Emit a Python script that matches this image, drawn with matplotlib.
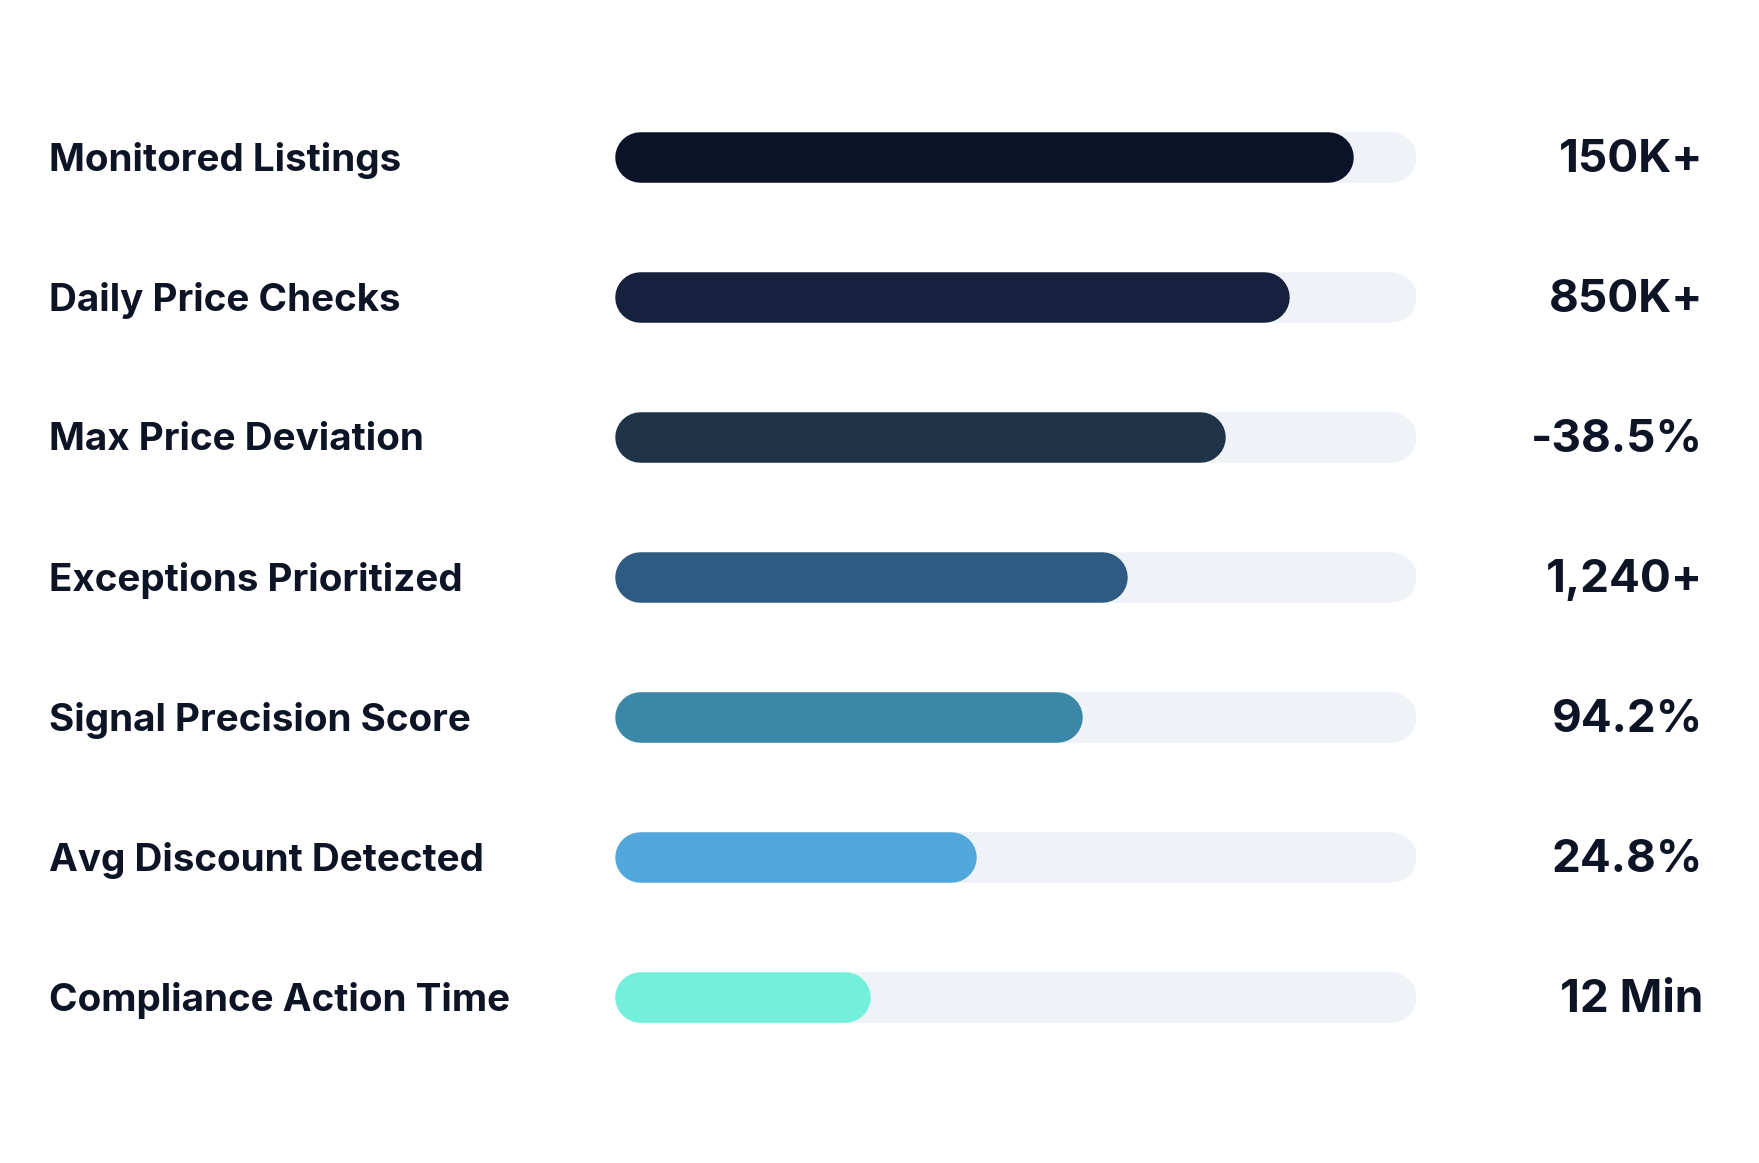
import matplotlib.pyplot as plt
from matplotlib.transforms import blended_transform_factory, offset_copy

# data
LABELS = ['Monitored Listings', 'Daily Price Checks', 'Max Price Deviation',
          'Exceptions Prioritized', 'Signal Precision Score',
          'Avg Discount Detected', 'Compliance Action Time']
SCORES = [92.2, 84.2, 76.2, 63.9, 58.3, 45.1, 31.9]
VALUE_TEXT = ['150K+', '850K+', '-38.5%', '1,240+', '94.2%', '24.8%', '12 Min']
COLORS = ['#0b1329', '#16213d', '#1f3349', '#2d5b84', '#3a87a8', '#52a8dc', '#74efdc']

TRACK = '#eff3f7'
TEXT = '#0d1426'
W, H, DPI = 1759, 1163, 100
BAR_PX = 50.5
ROW_PX = 140
FIRST_ROW_PX = 157

plt.rcParams['font.family'] = ['Inter', 'DejaVu Sans']

fig = plt.figure(figsize=(W / DPI, H / DPI), dpi=DPI)
fig.patch.set_facecolor('white')

left_px, right_px = 615, 1416
ax = fig.add_axes([left_px / W, 0, (right_px - left_px) / W, 1])
ax.set_xlim(0, 100)
top = -FIRST_ROW_PX / ROW_PX
bottom = (H - FIRST_ROW_PX) / ROW_PX
ax.set_ylim(bottom, top)
ax.axis('off')

lw = BAR_PX * 72 / DPI
r = (BAR_PX / 2) / ((right_px - left_px) / 100)  # cap radius in data units

for i, (s, c) in enumerate(zip(SCORES, COLORS)):
    ax.plot([r, 100 - r], [i, i], color=TRACK, lw=lw, solid_capstyle='round', zorder=1)
    ax.plot([r, s - r], [i, i], color=c, lw=lw, solid_capstyle='round', zorder=2)

trans = blended_transform_factory(fig.transFigure, ax.transData)
trans = offset_copy(trans, fig=fig, y=-2.5, units='points')
for i, (lab, vt) in enumerate(zip(LABELS, VALUE_TEXT)):
    fig.text(49 / W, i, lab, transform=trans, ha='left', va='center',
             fontsize=27.8, fontweight='bold', color=TEXT)
    fig.text(1703 / W, i, vt, transform=trans, ha='right', va='center',
             fontsize=33, fontweight='bold', color=TEXT)

fig.savefig('out.png', dpi=DPI, facecolor='white')
